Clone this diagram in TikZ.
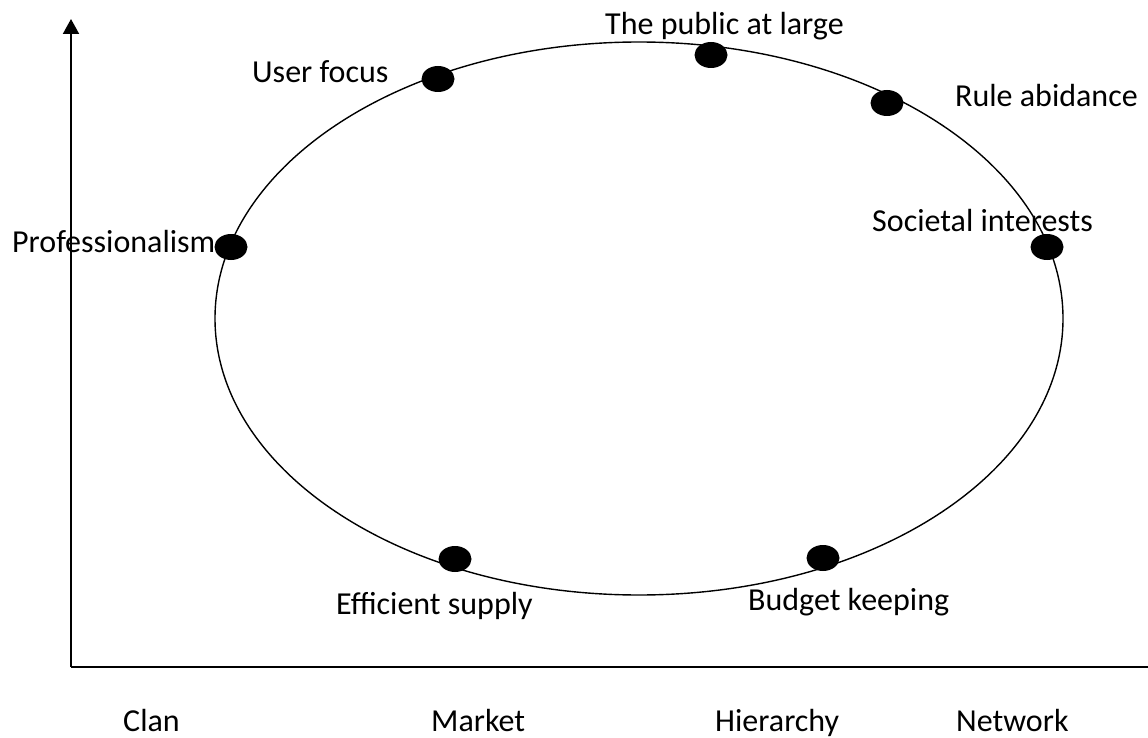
\documentclass[tikz,border=0pt]{standalone}
\usepackage{fontspec}
\setmainfont{Carlito}
\usetikzlibrary{arrows.meta,shapes.geometric}
\begin{document}
\begin{tikzpicture}[x=1pt,y=-1pt,
  lbl/.style={anchor=base west, inner sep=0pt, font=\fontsize{32}{38}\selectfont},
  dot/.style={ellipse, fill=black, inner sep=0pt, minimum width=33pt, minimum height=26pt},
  axis/.style={line width=2pt},
  ring/.style={line width=1.4pt}]
\useasboundingbox (0,0) rectangle (1148,738);

% axes
\coordinate (origin) at (71,667);
\coordinate (ytop) at (71,19);
\coordinate (xend) at (1148,667);
\draw[axis, -{Triangle[width=16pt,length=15pt]}] (origin) -- (ytop);
\draw[axis] (origin) -- (xend);

% cycle of values
\draw[ring] (639,318.5) ellipse (424 and 276.5);

% labels
\node[lbl] (tUser)  at (252,83)  {User focus};
\node[lbl] (tPub)   at (605,35)  {The public at large};
\node[lbl] (tRule)  at (955,107) {Rule abidance};
\node[lbl] (tProf)  at (12,252)  {Professionalism};
\node[lbl] (tSoc)   at (872,232) {Societal interests};
\node[lbl] (tEff)   at (336,614) {Efficient supply};
\node[lbl] (tBud)   at (748,610) {Budget keeping};

% points on the ellipse
\node[dot] (dUser) at (438,79)  {};
\node[dot] (dPub)  at (711,55)  {};
\node[dot] (dRule) at (887,103) {};
\node[dot] (dProf) at (231,247) {};
\node[dot] (dSoc)  at (1047,247) {};
\node[dot] (dEff)  at (455,559) {};
\node[dot] (dBud)  at (823,558) {};

% horizontal categories
\node[lbl] (cClan) at (123,731) {Clan};
\node[lbl] (cMark) at (431,731) {Market};
\node[lbl] (cHier) at (715,731) {Hierarchy};
\node[lbl] (cNet)  at (956,731) {Network};
\end{tikzpicture}
\end{document}
